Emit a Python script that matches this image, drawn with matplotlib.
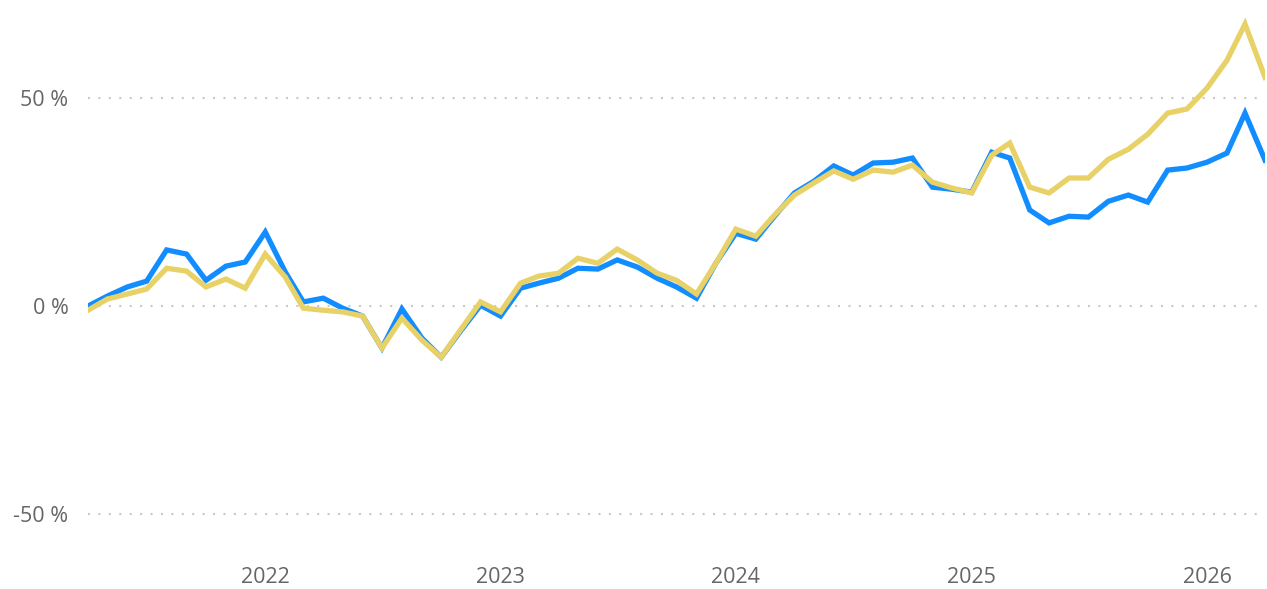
import datetime as dt

import matplotlib
matplotlib.use("Agg")
import matplotlib.dates as mdates
import matplotlib.pyplot as plt
from matplotlib.ticker import FuncFormatter

# monthly values, Apr 2021 .. Apr 2026 (cumulative change in %)
start_year, start_month, n_months = 2021, 4, 61

blue_values = [
    0.0, 2.4, 4.6, 6.0, 13.5, 12.5, 6.2, 9.6, 10.6, 17.8, 8.2, 1.0,
    1.9, -0.5, -2.4, -10.1, -0.7, -7.7, -12.3, -5.8, 0.2, -2.4, 4.3, 5.5,
    6.7, 9.1, 8.9, 11.1, 9.4, 6.7, 4.6, 1.9, 10.3, 17.5, 16.1, 21.6,
    27.2, 30.0, 33.7, 31.5, 34.4, 34.6, 35.6, 28.6, 28.1, 27.4, 37.0, 35.6,
    23.1, 20.0, 21.6, 21.4, 25.2, 26.7, 25.0, 32.7, 33.2, 34.6, 36.8, 46.4,
    35.1,
]
yellow_values = [
    -1.0, 1.7, 2.9, 4.1, 9.1, 8.4, 4.6, 6.5, 4.3, 12.5, 7.0, -0.5,
    -1.0, -1.4, -2.4, -10.1, -2.9, -8.2, -12.3, -5.5, 1.0, -1.4, 5.5, 7.2,
    7.9, 11.5, 10.3, 13.7, 11.1, 7.9, 6.2, 2.9, 10.3, 18.5, 16.8, 21.9,
    26.7, 29.6, 32.5, 30.5, 32.7, 32.2, 33.9, 29.8, 28.4, 27.2, 36.3, 39.2,
    28.6, 27.2, 30.8, 30.8, 35.3, 37.7, 41.3, 46.4, 47.4, 52.4, 59.1, 67.8,
    55.0,
]
y_ticks = [-50, 0, 50]
x_tick_years = [2022, 2023, 2024, 2025, 2026]


def month_dates(year, month, count):
    dates = []
    for i in range(count):
        m = month - 1 + i
        dates.append(dt.date(year + m // 12, m % 12 + 1, 1))
    return dates


dates = month_dates(start_year, start_month, n_months)

plt.rcParams["font.family"] = ["Open Sans", "DejaVu Sans"]

fig = plt.figure(figsize=(12.67, 5.89), dpi=100)
ax = fig.add_axes([88 / 1267, 0.0567, 1177 / 1267, 0.932])

for y in y_ticks:
    ax.axhline(y, color="#c8c8c8", lw=1.5, linestyle=(0, (1, 4)), zorder=0)

ax.plot(dates, blue_values, color="#118DFF", lw=3.8, solid_joinstyle="miter", zorder=2)
ax.plot(dates, yellow_values, color="#E8D166", lw=3.8, solid_joinstyle="miter", zorder=3)

ax.set_xlim(dates[0], dates[-1])
ax.set_ylim(-60, 72)
ax.set_yticks(y_ticks)
ax.yaxis.set_major_formatter(FuncFormatter(lambda v, p: f"{v:.0f} %"))
ax.set_xticks([dt.date(y, 1, 1) for y in x_tick_years])
ax.xaxis.set_major_formatter(mdates.DateFormatter("%Y"))

for side in ax.spines.values():
    side.set_visible(False)
ax.tick_params(axis="both", length=0, labelsize=15.5, labelcolor="#666666")
ax.tick_params(axis="x", pad=8)
ax.tick_params(axis="y", pad=14)

fig.savefig("out.png", dpi=100)
